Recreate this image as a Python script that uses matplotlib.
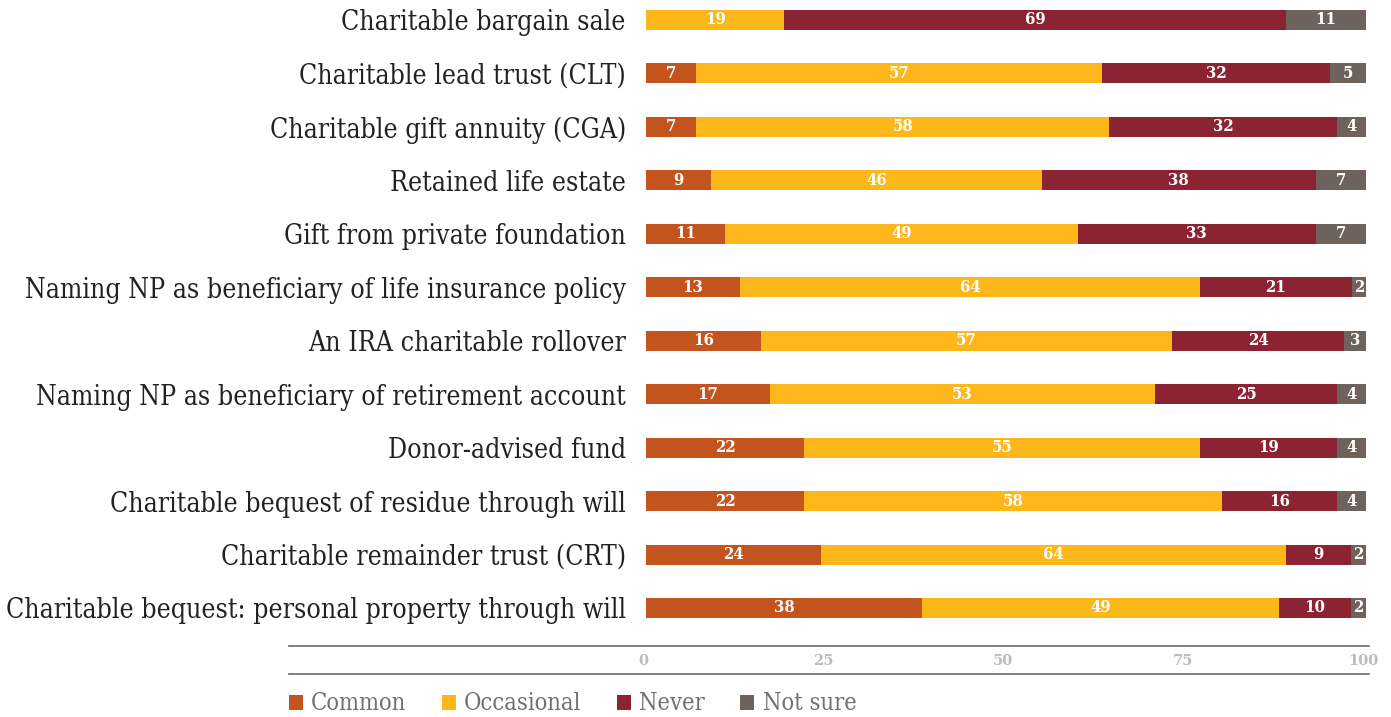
import matplotlib
matplotlib.use("Agg")
import matplotlib.pyplot as plt
from matplotlib.lines import Line2D
from matplotlib.patches import Patch
import numpy as np

categories = [
    "Charitable bargain sale",
    "Charitable lead trust (CLT)",
    "Charitable gift annuity (CGA)",
    "Retained life estate",
    "Gift from private foundation",
    "Naming NP as beneficiary of life insurance policy",
    "An IRA charitable rollover",
    "Naming NP as beneficiary of retirement account",
    "Donor-advised fund",
    "Charitable bequest of residue through will",
    "Charitable remainder trust (CRT)",
    "Charitable bequest: personal property through will",
]
common = [0, 7, 7, 9, 11, 13, 16, 17, 22, 22, 24, 38]
occasional = [19, 57, 58, 46, 49, 64, 57, 53, 55, 58, 64, 49]
never = [69, 32, 32, 38, 33, 21, 24, 25, 19, 16, 9, 10]
not_sure = [11, 5, 4, 7, 7, 2, 3, 4, 4, 4, 2, 2]
series_names = ["Common", "Occasional", "Never", "Not sure"]
colors = ["#c4541d", "#fdb71b", "#8b2332", "#6d635c"]
xticks = [0, 25, 50, 75, 100]

W, H = 1391, 717
fig = plt.figure(figsize=(W / 100, H / 100), dpi=100)
fig.patch.set_facecolor("white")

x0, x1 = 646, 1366
top, bottom = 0, 646
ax = fig.add_axes([x0 / W, 1 - bottom / H, (x1 - x0) / W, (bottom - top) / H])

data = np.array([common, occasional, never, not_sure], dtype=float)
totals = data.sum(axis=0)
shares = data / totals * 100
y = np.arange(len(categories))
pitch = 53.45
ax.set_ylim((bottom - 20) / pitch, -20 / pitch)
ax.set_xlim(0, 100)

left = np.zeros(len(categories))
bar_h = 20 / pitch
for vals, raw, col in zip(shares, data, colors):
    ax.barh(y, vals, left=left, height=bar_h, color=col, edgecolor="none")
    for yi, (l, v, r) in enumerate(zip(left, vals, raw)):
        if r > 0:
            ax.text(l + v / 2, yi, f"{int(r)}", ha="center", va="center",
                    color="white", fontsize=12, fontweight="bold",
                    family="DejaVu Serif", fontstretch="condensed")
    left += vals

ax.set_yticks(y)
ax.set_yticklabels(categories, family="DejaVu Serif", fontsize=19.1,
                   fontstretch="condensed", fontweight="light",
                   color="#222222")
ax.tick_params(axis="y", length=0, pad=14.5)
ax.set_xticks([])
for s in ax.spines.values():
    s.set_visible(False)

# axis band
for yy in (646, 674):
    fig.add_artist(Line2D([289 / W, 1369 / W], [1 - yy / H, 1 - yy / H],
                          color="#6a6a6a", lw=1.2, transform=fig.transFigure))
for t in xticks:
    xp = x0 + (x1 - x0) * t / 100
    fig.text(xp / W - 3 / W, 1 - 661 / H, str(t), ha="center", va="center",
             color="#bcbcbc", fontsize=10.5, fontweight="bold",
             family="DejaVu Serif")

handles = [Patch(facecolor=c, edgecolor="none") for c in colors]
leg = fig.legend(handles, series_names, loc="center left",
                 bbox_to_anchor=(289 / W, 1 - 704 / H), ncol=4, frameon=False,
                 handlelength=0.6, handleheight=0.6, handletextpad=0.34,
                 columnspacing=1.5, borderaxespad=0, borderpad=0,
                 prop={"family": "DejaVu Serif", "size": 17,
                       "stretch": "condensed"})
for t in leg.get_texts():
    t.set_color("#707070")

fig.savefig("out.png", dpi=100)
